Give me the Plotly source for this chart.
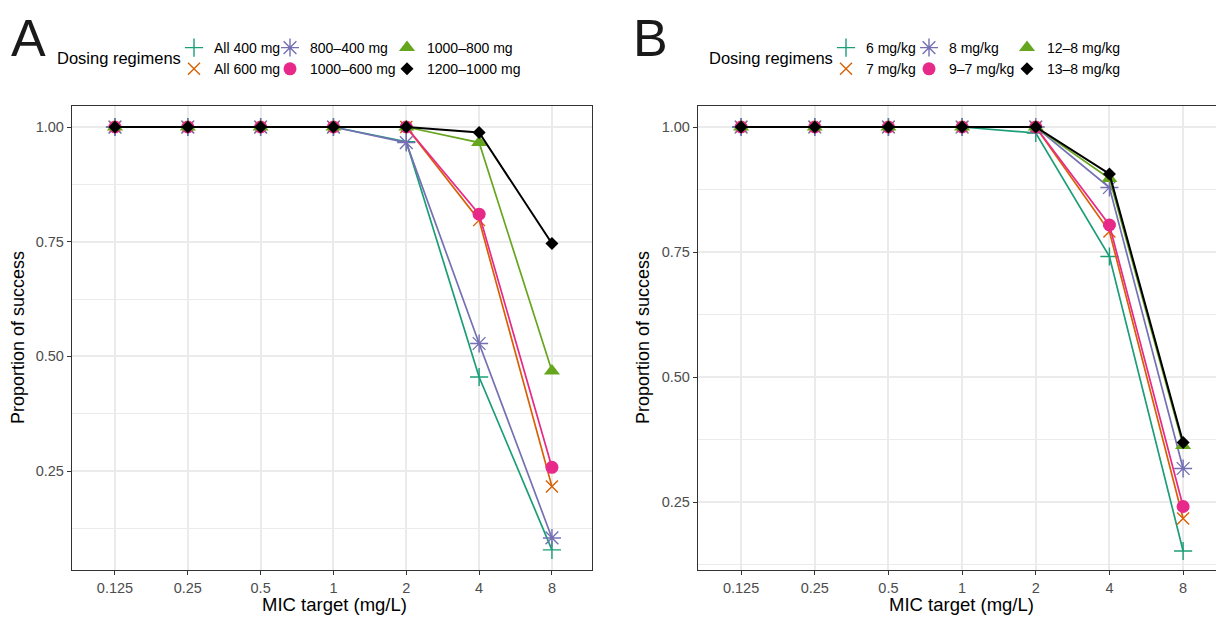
import plotly.graph_objects as go

# ---------------- data ----------------
mic_targets = ["0.125", "0.25", "0.5", "1", "2", "4", "8"]

regimens_a = ["All 400 mg", "All 600 mg", "800–400 mg", "1000–600 mg", "1000–800 mg", "1200–1000 mg"]
all_400 = [1.00, 1.00, 1.00, 1.00, 0.968, 0.455, 0.078]
all_600 = [1.00, 1.00, 1.00, 1.00, 1.000, 0.797, 0.216]
r800_400 = [1.00, 1.00, 1.00, 1.00, 0.966, 0.528, 0.104]
r1000_600 = [1.00, 1.00, 1.00, 1.00, 1.000, 0.810, 0.258]
r1000_800 = [1.00, 1.00, 1.00, 1.00, 1.000, 0.966, 0.468]
r1200_1000 = [1.00, 1.00, 1.00, 1.00, 1.000, 0.988, 0.746]

regimens_b = ["6 mg/kg", "7 mg/kg", "8 mg/kg", "9–7 mg/kg", "12–8 mg/kg", "13–8 mg/kg"]
mgkg_6 = [1.00, 1.00, 1.00, 1.00, 0.988, 0.741, 0.152]
mgkg_7 = [1.00, 1.00, 1.00, 1.00, 1.000, 0.791, 0.217]
mgkg_8 = [1.00, 1.00, 1.00, 1.00, 1.000, 0.879, 0.317]
mgkg_9_7 = [1.00, 1.00, 1.00, 1.00, 1.000, 0.804, 0.241]
mgkg_12_8 = [1.00, 1.00, 1.00, 1.00, 1.000, 0.897, 0.363]
mgkg_13_8 = [1.00, 1.00, 1.00, 1.00, 1.000, 0.906, 0.369]

series_a = [all_400, all_600, r800_400, r1000_600, r1000_800, r1200_1000]
series_b = [mgkg_6, mgkg_7, mgkg_8, mgkg_9_7, mgkg_12_8, mgkg_13_8]

# ---------------- styles ----------------
colors = ["#1B9E77", "#D95F02", "#7570B3", "#E7298A", "#66A61E", "#000000"]
symbols = ["cross-thin", "x-thin", "asterisk", "circle", "triangle-up", "diamond"]
sizes = [13, 12, 15, 13, 14, 10]
FONT = "Liberation Sans, Arial, Helvetica, sans-serif"
OFF = 8  # page body margin
W, H = 1224 - OFF, 618 - OFF


def px_x(p):
    return (p - OFF) / W


def px_y(p):
    return 1 - (p - OFF) / H


def marker_style(i):
    thin = symbols[i] in ("cross-thin", "x-thin", "asterisk")
    if thin:
        return dict(symbol=symbols[i], size=sizes[i], color=colors[i],
                    line=dict(color=colors[i], width=1.4))
    return dict(symbol=symbols[i], size=sizes[i], color=colors[i],
                line=dict(width=0))


fig = go.Figure()

for panel, (names, series, xa, ya) in enumerate([
        (regimens_a, series_a, "x", "y"),
        (regimens_b, series_b, "x2", "y2")]):
    for i, (name, vals) in enumerate(zip(names, series)):
        fig.add_trace(go.Scatter(
            x=mic_targets, y=vals, mode="lines+markers", name=name,
            xaxis=xa, yaxis=ya, showlegend=False,
            line=dict(color=colors[i], width=2.0 if i == 5 else 1.7),
            marker=marker_style(i), cliponaxis=False))
    # legend-only entries (markers only), arranged in 3 columns x 2 rows
    for i, name in enumerate(names):
        col = i // 2
        leg = "legend" if (panel == 0 and col == 0) else f"legend{panel * 3 + col + 1}"
        fig.add_trace(go.Scatter(
            x=[None], y=[None], mode="markers", name=name,
            xaxis=xa, yaxis=ya, showlegend=True, legend=leg,
            marker=marker_style(i)))

grid = "#EBEBEB"
axcol = "#333333"
tickfont = dict(family=FONT, size=14.5, color="#4D4D4D")

common_x = dict(type="category", categoryorder="array", categoryarray=mic_targets,
                showgrid=True, gridcolor=grid, gridwidth=1.8, zeroline=False,
                showline=True, linecolor=axcol, linewidth=1.3,
                ticks="outside", ticklen=4, tickwidth=1.3, tickcolor=axcol,
                tickfont=tickfont)
common_y = dict(showgrid=True, gridcolor=grid, gridwidth=1.8, zeroline=False,
                showline=True, linecolor=axcol, linewidth=1.3,
                ticks="outside", ticklen=4, tickwidth=1.3, tickcolor=axcol,
                tickfont=tickfont, tick0=0, dtick=0.25, tickformat=".2f",
                minor=dict(tick0=0.125, dtick=0.25, showgrid=True, gridcolor=grid,
                           gridwidth=1.2, ticks=""))

ytop, ybot = 106, 570

fig.update_layout(
    width=W, height=H, margin=dict(l=0, r=0, t=0, b=0),
    paper_bgcolor="white", plot_bgcolor="white",
    font=dict(family=FONT, color="#000000"),
    xaxis=dict(common_x, domain=[px_x(72), px_x(592)], range=[-0.59, 6.55],
               mirror=True, anchor="y"),
    yaxis=dict(common_y, domain=[px_y(ybot), px_y(ytop)], range=[0.0342, 1.0458],
               mirror=True, anchor="x"),
    xaxis2=dict(common_x, domain=[px_x(698), 1.0], range=[-0.585, 6.555],
                mirror=True, anchor="y2"),
    yaxis2=dict(common_y, domain=[px_y(ybot), px_y(ytop)], range=[0.114, 1.042],
                mirror=False, anchor="x2"),
)

# legends: one per column
leg_common = dict(orientation="v", xanchor="left", yanchor="top", bgcolor="rgba(0,0,0,0)",
                  font=dict(family=FONT, size=14, color="#000000"),
                  itemclick=False, itemdoubleclick=False, tracegroupgap=0,
                  borderwidth=0, itemwidth=30)
col_text_x = [[212, 308, 425], [864, 947, 1045]]
leg_top = 32
for panel in range(2):
    for col in range(3):
        key = "legend" if (panel == 0 and col == 0) else f"legend{panel * 3 + col + 1}"
        fig.update_layout({key: dict(leg_common, x=px_x(col_text_x[panel][col] - 38),
                                     y=px_y(leg_top))})

ann = []
# panel letters
ann.append(dict(text="A", x=px_x(9), y=px_y(38), xref="paper", yref="paper",
                xanchor="left", yanchor="middle", showarrow=False,
                font=dict(family=FONT, size=52, color="#1a1a1a")))
ann.append(dict(text="B", x=px_x(631), y=px_y(38), xref="paper", yref="paper",
                xanchor="left", yanchor="middle", showarrow=False,
                font=dict(family=FONT, size=52, color="#1a1a1a")))
# legend titles
for xc in [55, 707]:
    ann.append(dict(text="Dosing regimens", x=px_x(xc), y=px_y(58), xref="paper",
                    yref="paper", xanchor="left", yanchor="middle", showarrow=False,
                    font=dict(family=FONT, size=16.5, color="#000000")))
# axis titles
for xc in [334, 961]:
    ann.append(dict(text="MIC target (mg/L)", x=px_x(xc), y=px_y(604), xref="paper",
                    yref="paper", xanchor="center", yanchor="middle", showarrow=False,
                    font=dict(family=FONT, size=18.5, color="#000000")))
for xc in [18, 643]:
    ann.append(dict(text="Proportion of success", x=px_x(xc), y=px_y(338), xref="paper",
                    yref="paper", xanchor="center", yanchor="middle", showarrow=False,
                    textangle=-90, font=dict(family=FONT, size=18, color="#000000")))
fig.update_layout(annotations=ann)

fig.write_html("out.html")
